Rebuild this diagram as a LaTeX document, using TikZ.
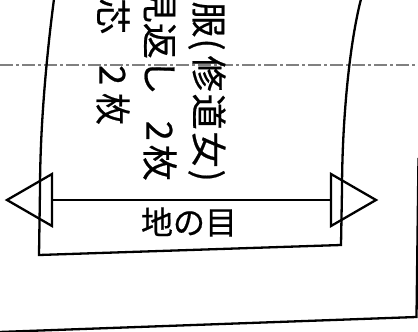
\documentclass[tikz,border=0pt]{standalone}
\usepackage{fontspec}
\newfontfamily\jpfont[FakeBold=0.6]{Noto Sans CJK JP}
\tikzset{
  outline/.style={draw=black,line width=2.3pt,line join=miter},
  grain/.style={draw=black,line width=2.3pt},
  foldline/.style={draw=black!50,line width=2.3pt,dash pattern=on 13pt off 3pt on 3pt off 3pt},
  vlabel/.style={font=\jpfont\fontsize{36}{40}\selectfont,rotate=-90,anchor=east,inner sep=0pt,text=black},
  hlabel/.style={font=\jpfont\fontsize{32}{36}\selectfont,inner sep=0pt,text=black}
}
\begin{document}
\begin{tikzpicture}[x=1pt,y=-1pt]
\useasboundingbox (0,0) rectangle (418,332);
\begin{scope}
\clip (0,0) rectangle (418,332);
\coordinate (fl) at (0,65);
\coordinate (fr) at (418,65);
\draw[foldline] (fl) -- (fr);
\node[vlabel] (t1) at (207,182) {服\hspace{1pt}(\hspace{5pt}修\hspace{2pt}道\hspace{2pt}女\hspace{2pt})};
\node[vlabel] (t2) at (160,181) {見返し\hspace{26pt}2\hspace{4pt}枚};
\node[vlabel] (t3) at (113,125) {芯\hspace{31pt}2\hspace{8pt}\scalebox{0.88}[1]{枚}};
\coordinate (a) at (54,-1);
\coordinate (b) at (39,255);
\coordinate (c) at (341,245);
\coordinate (d) at (361,-1);
\draw[outline] (a) .. controls (46,60) and (40,130) .. (40,190) -- (b) -- (c) -- (342,190) .. controls (342,130) and (348,50) .. (d);
\coordinate (e) at (418.5,158);
\coordinate (f) at (416.5,317);
\coordinate (g) at (-1,332);
\draw[outline] (e) -- (f) -- (g);
\coordinate (l0) at (7,200);
\coordinate (l1) at (52,174);
\coordinate (l2) at (52,226);
\coordinate (r0) at (376,200);
\coordinate (r1) at (331,174);
\coordinate (r2) at (331,226);
\draw[grain] (l0) -- (l1) -- (l2) -- cycle;
\draw[grain] (r0) -- (r1) -- (r2) -- cycle;
\draw[grain] (l1 |- l0) -- (r1 |- r0);
\node[hlabel] (gl) at (189,222) {地の目};
\end{scope}
\end{tikzpicture}
\end{document}
